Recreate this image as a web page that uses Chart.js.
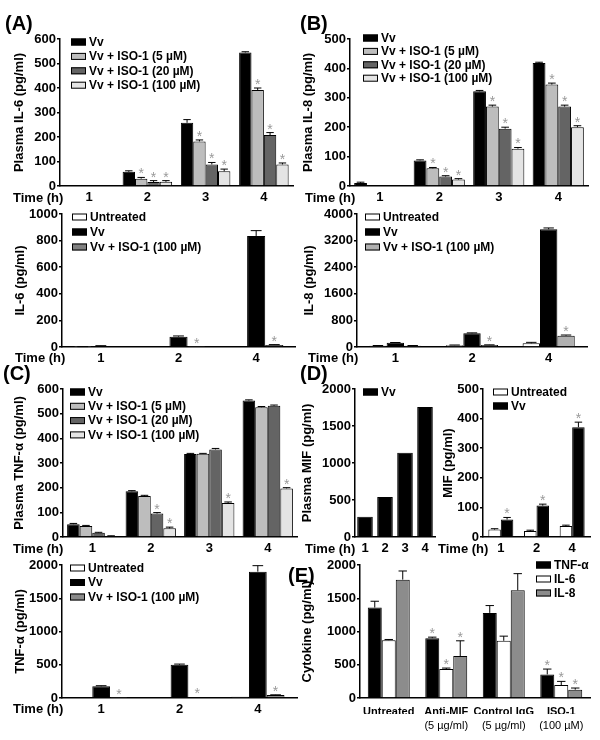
<!DOCTYPE html>
<html>
<head>
<meta charset="utf-8">
<script src="https://cdn.jsdelivr.net/npm/chart.js@4.4.1/dist/chart.umd.min.js"></script>
<style>
  body { margin: 0; background: #fff; }
  #fig { position: relative; width: 600px; height: 740px; overflow: hidden;
         font-family: "Liberation Sans", Arial, sans-serif; font-weight: bold; color: #000; }
  .panel { position: absolute; }
  .tag { position: absolute; font-size: 20px; line-height: 22px; }
  .time { position: absolute; font-size: 13px; line-height: 16px; white-space: nowrap; }
</style>
</head>
<body>
<div id="fig"></div>
<script>
// ---- data ----
const plasmaHours = ['1', '2', '3', '4'];
const cellHours = ['1', '2', '4'];

// (A) plasma IL-6
const il6PlasmaVv = [0, 58, 258, 545];
const il6PlasmaIso5 = [0, 30, 182, 392];
const il6PlasmaIso20 = [0, 16, 88, 208];
const il6PlasmaIso100 = [0, 17, 60, 88];
const il6PlasmaErr = [[0, 4, 13, 3], [0, 5, 6, 8], [0, 6, 8, 10], [0, 5, 9, 6]];
const il6PlasmaSig = [[0, 0, 0, 0], [0, 1, 1, 1], [0, 1, 1, 1], [0, 1, 1, 1]];
// (A) IL-6 in cells
const il6Untreated = [2, 0, 0];
const il6Vv = [8, 78, 835];
const il6Iso100 = [0, 2, 15];
const il6Err = [[1, 0, 0], [2, 5, 40], [0, 0, 3]];
const il6Sig = [[0, 0, 0], [0, 0, 0], [0, 1, 1]];

// (B) plasma IL-8
const il8PlasmaVv = [10, 87, 322, 418];
const il8PlasmaIso5 = [0, 60, 270, 345];
const il8PlasmaIso20 = [0, 32, 195, 270];
const il8PlasmaIso100 = [0, 22, 127, 200];
const il8PlasmaErr = [[3, 2, 3, 3], [0, 3, 5, 5], [0, 3, 5, 5], [0, 3, 4, 5]];
const il8PlasmaSig = [[0, 0, 0, 0], [0, 1, 1, 1], [0, 1, 1, 1], [0, 1, 1, 1]];
// (B) IL-8 in cells
const il8Untreated = [40, 55, 110];
const il8Vv = [125, 410, 3540];
const il8Iso100 = [40, 60, 340];
const il8Err = [[5, 5, 30], [10, 15, 40], [5, 5, 20]];
const il8Sig = [[0, 0, 0], [0, 0, 0], [0, 1, 1]];

// (C) plasma TNF-a
const tnfPlasmaVv = [52, 185, 336, 553];
const tnfPlasmaIso5 = [45, 166, 337, 526];
const tnfPlasmaIso20 = [17, 95, 355, 532];
const tnfPlasmaIso100 = [4, 35, 138, 197];
const tnfPlasmaErr = [[3, 3, 3, 3], [2, 3, 2, 3], [2, 4, 4, 3], [1, 5, 4, 3]];
const tnfPlasmaSig = [[0, 0, 0, 0], [0, 0, 0, 0], [0, 1, 0, 0], [0, 1, 1, 1]];
// (C) TNF-a in cells
const tnfUntreated = [10, 10, 20];
const tnfVv = [175, 500, 1900];
const tnfIso100 = [5, 10, 45];
const tnfErr = [[0, 0, 0], [10, 10, 90], [0, 0, 3]];
const tnfSig = [[0, 0, 0], [0, 0, 0], [1, 1, 1]];

// (D) MIF
const mifPlasmaVv = [275, 540, 1140, 1756];
const mifUntreated = [25, 20, 37];
const mifVv = [59, 106, 371];
const mifErr = [[3, 3, 3], [7, 5, 17]];
const mifSig = [[0, 0, 0], [1, 1, 1]];

// (E) cytokines after treatment
const treatments = ['Untreated', 'Anti-MIF', 'Control IgG', 'ISO-1'];
const treatmentDoses = ['', '(5 \u00b5g/ml)', '(5 \u00b5g/ml)', '(100 \u00b5M)'];
const cytoTnf = [1360, 900, 1280, 355];
const cytoIl6 = [870, 435, 860, 195];
const cytoIl8 = [1780, 630, 1620, 125];
const cytoErr = [[95, 15, 110, 80], [10, 15, 70, 55], [130, 230, 250, 25]];
const cytoSig = [[0, 1, 0, 1], [0, 1, 0, 1], [0, 1, 0, 1]];

const FONT = '"Liberation Sans", Arial, sans-serif';
Chart.defaults.font.family = FONT;
Chart.defaults.color = '#000';
Chart.defaults.animation = false;

// error whiskers (upper only) and significance stars
const errorBars = {
  id: 'errorBars',
  afterDatasetsDraw(chart) {
    const ctx = chart.ctx;
    const y = chart.scales.y;
    ctx.save();
    chart.data.datasets.forEach((ds, i) => {
      const meta = chart.getDatasetMeta(i);
      meta.data.forEach((bar, j) => {
        const v = ds.data[j];
        const e = ds.err ? ds.err[j] : 0;
        const top = y.getPixelForValue(v + e);
        if (e > 0) {
          const half = bar.width * 0.3;
          ctx.strokeStyle = '#000';
          ctx.lineWidth = 1;
          ctx.beginPath();
          ctx.moveTo(bar.x, y.getPixelForValue(v));
          ctx.lineTo(bar.x, top);
          ctx.moveTo(bar.x - half, top);
          ctx.lineTo(bar.x + half, top);
          ctx.stroke();
        }
        if (ds.sig && ds.sig[j]) {
          ctx.fillStyle = '#999';
          ctx.font = '14px ' + FONT;
          ctx.textAlign = 'center';
          ctx.textBaseline = 'alphabetic';
          ctx.fillText('*', bar.x, top + 1);
        }
      });
    });
    ctx.restore();
  }
};

// legend drawn inside the plot area
const insideLegend = {
  id: 'insideLegend',
  afterDraw(chart, args, opts) {
    const ctx = chart.ctx;
    const area = chart.chartArea;
    ctx.save();
    ctx.font = 'bold 12px ' + FONT;
    ctx.textBaseline = 'middle';
    ctx.textAlign = 'left';
    chart.data.datasets.forEach((ds, i) => {
      const x = area.left + opts.dx;
      const yy = area.top + opts.dy + i * opts.row;
      ctx.fillStyle = ds.backgroundColor;
      ctx.fillRect(x, yy - 3.5, 15, 7);
      ctx.strokeStyle = '#000';
      ctx.lineWidth = 1;
      ctx.strokeRect(x + 0.5, yy - 3, 14, 6);
      ctx.fillStyle = '#000';
      ctx.fillText(ds.label, x + 18, yy + 0.5);
    });
    ctx.restore();
  }
};

const fig = document.getElementById('fig');

function drawPanel(p) {
  const box = document.createElement('div');
  box.className = 'panel';
  box.style.left = p.x + 'px';
  box.style.top = p.y + 'px';
  const cv = document.createElement('canvas');
  cv.width = p.w;
  cv.height = p.h;
  box.appendChild(cv);
  fig.appendChild(box);

  const scales = {
    x: {
      offset: true,
      grid: { display: false, drawTicks: false },
      border: { color: '#000', width: 1.5 },
      ticks: { color: '#000', autoSkip: false, maxRotation: 0, padding: p.xPad || 4,
               font: { size: p.xFont || 13, weight: 'bold' } },
      afterFit: s => { s.height = p.xh; }
    },
    y: {
      min: 0, max: p.max,
      ticks: { stepSize: p.step, color: '#000', padding: 1, font: { size: 13, weight: 'bold' },
               callback: v => String(v) },
      grid: { drawOnChartArea: false, color: '#000', tickLength: 3, lineWidth: 1.5 },
      border: { color: '#000', width: 1.5 },
      title: { display: true, text: p.yTitle, color: '#000', padding: 0,
               font: { size: 13, weight: 'bold' } },
      afterFit: s => { s.width = p.yw; }
    }
  };
  if (p.sub) {
    scales.x2 = {
      type: 'category', labels: p.sub, position: 'bottom', offset: true, weight: 1,
      grid: { display: false, drawTicks: false }, border: { display: false },
      ticks: { color: '#000', autoSkip: false, maxRotation: 0, padding: 5,
               font: { size: 11, weight: 'normal' } },
      afterFit: s => { s.height = p.xh2; }
    };
  }

  new Chart(cv, {
    type: 'bar',
    data: {
      labels: p.labels,
      datasets: p.series.map(s => ({
        label: s.label, data: s.data, err: s.err, sig: s.sig,
        backgroundColor: s.color, borderColor: '#000', borderWidth: 1,
        categoryPercentage: p.cat, barPercentage: 1
      }))
    },
    options: {
      responsive: false,
      devicePixelRatio: 1,
      layout: { padding: { left: p.pl, top: 10, right: p.pr, bottom: 0 } },
      scales: scales,
      plugins: {
        legend: { display: false },
        tooltip: { enabled: false },
        insideLegend: p.legend
      }
    },
    plugins: [errorBars, insideLegend]
  });
}

const ISO5 = '#bdbdbd', ISO20 = '#646464', ISO100 = '#e4e4e4';
function plasmaSeries(vals, err, sig) {
  const names = ['Vv', 'Vv + ISO-1 (5 \u00b5M)', 'Vv + ISO-1 (20 \u00b5M)', 'Vv + ISO-1 (100 \u00b5M)'];
  const cols = ['#000', ISO5, ISO20, ISO100];
  return vals.map((d, i) => ({ label: names[i], data: d, err: err[i], sig: sig[i], color: cols[i] }));
}
function cellSeries(vals, err, sig, isoColor) {
  const names = ['Untreated', 'Vv', 'Vv + ISO-1 (100 \u00b5M)'];
  const cols = ['#fff', '#000', isoColor];
  return vals.map((d, i) => ({ label: names[i], data: d, err: err[i], sig: sig[i], color: cols[i] }));
}

// (A)
drawPanel({ x: 0, y: 29, w: 300, h: 177, pl: 12, yw: 48, pr: 7, xh: 20, cat: 0.85,
  labels: plasmaHours, max: 600, step: 100, yTitle: 'Plasma IL-6 (pg/ml)',
  series: plasmaSeries([il6PlasmaVv, il6PlasmaIso5, il6PlasmaIso20, il6PlasmaIso100], il6PlasmaErr, il6PlasmaSig),
  legend: { dx: 11, dy: 3, row: 14.4 } });
drawPanel({ x: 0, y: 204, w: 300, h: 163, pl: 13, yw: 49, pr: 5, xh: 20, cat: 0.7,
  labels: cellHours, max: 1000, step: 200, yTitle: 'IL-6 (pg/ml)',
  series: cellSeries([il6Untreated, il6Vv, il6Iso100], il6Err, il6Sig, '#808080'),
  legend: { dx: 10, dy: 3, row: 15 } });

// (B)
drawPanel({ x: 300, y: 29, w: 300, h: 177, pl: 1, yw: 49, pr: 12, xh: 20, cat: 0.86,
  labels: plasmaHours, max: 500, step: 100, yTitle: 'Plasma IL-8 (pg/ml)',
  series: plasmaSeries([il8PlasmaVv, il8PlasmaIso5, il8PlasmaIso20, il8PlasmaIso100], il8PlasmaErr, il8PlasmaSig),
  legend: { dx: 13, dy: -1, row: 13.4 } });
drawPanel({ x: 300, y: 204, w: 300, h: 163, pl: 2, yw: 55, pr: 13, xh: 20, cat: 0.68,
  labels: cellHours, max: 4000, step: 800, yTitle: 'IL-8 (pg/ml)',
  series: cellSeries([il8Untreated, il8Vv, il8Iso100], il8Err, il8Sig, '#b0b0b0'),
  legend: { dx: 8, dy: 3, row: 15 } });

// (C)
drawPanel({ x: 0, y: 379, w: 300, h: 178, pl: 12, yw: 51, pr: 3, xh: 20, cat: 0.86,
  labels: plasmaHours, max: 600, step: 100, yTitle: 'Plasma TNF-\u03b1 (pg/ml)',
  series: plasmaSeries([tnfPlasmaVv, tnfPlasmaIso5, tnfPlasmaIso20, tnfPlasmaIso100], tnfPlasmaErr, tnfPlasmaSig),
  legend: { dx: 7, dy: 3, row: 14.3 } });
drawPanel({ x: 0, y: 555, w: 300, h: 163, pl: 13, yw: 49, pr: 3, xh: 20, cat: 0.68,
  labels: cellHours, max: 2000, step: 500, yTitle: 'TNF-\u03b1 (pg/ml)',
  series: cellSeries([tnfUntreated, tnfVv, tnfIso100], tnfErr, tnfSig, '#8a8a8a'),
  legend: { dx: 8, dy: 3, row: 14.5 } });

// (D)
drawPanel({ x: 300, y: 379, w: 140, h: 178, pl: 0, yw: 55, pr: 5, xh: 20, cat: 0.78,
  labels: plasmaHours, max: 2000, step: 500, yTitle: 'Plasma MIF (pg/ml)',
  series: [{ label: 'Vv', data: mifPlasmaVv, color: '#000' }],
  legend: { dx: 8, dy: 3, row: 14 } });
drawPanel({ x: 440, y: 379, w: 160, h: 178, pl: 1, yw: 42, pr: 10, xh: 20, cat: 0.7,
  labels: cellHours, max: 500, step: 100, yTitle: 'MIF (pg/ml)',
  series: [
    { label: 'Untreated', data: mifUntreated, err: mifErr[0], sig: mifSig[0], color: '#fff' },
    { label: 'Vv', data: mifVv, err: mifErr[1], sig: mifSig[1], color: '#000' }
  ],
  legend: { dx: 10, dy: 3, row: 14 } });

// (E)
drawPanel({ x: 300, y: 555, w: 300, h: 185, pl: 0, yw: 60, pr: 10, xh: 16, xh2: 26, xFont: 11, xPad: 7,
  cat: 0.73, labels: treatments, sub: treatmentDoses, max: 2000, step: 500, yTitle: 'Cytokine (pg/ml)',
  series: [
    { label: 'TNF-\u03b1', data: cytoTnf, err: cytoErr[0], sig: cytoSig[0], color: '#000' },
    { label: 'IL-6', data: cytoIl6, err: cytoErr[1], sig: cytoSig[1], color: '#fff' },
    { label: 'IL-8', data: cytoIl8, err: cytoErr[2], sig: cytoSig[2], color: '#8c8c8c' }
  ],
  legend: { dx: 176, dy: 0, row: 14 } });

// panel tags and "Time (h)" row captions
[['(A)', 5, 12], ['(B)', 300, 12], ['(C)', 3, 362], ['(D)', 300, 362], ['(E)', 288, 564]].forEach(t => {
  const d = document.createElement('div');
  d.className = 'tag';
  d.textContent = t[0];
  d.style.left = t[1] + 'px';
  d.style.top = t[2] + 'px';
  fig.appendChild(d);
});
[[13, 198], [15, 358], [305, 198], [308, 358], [13, 549], [13, 709], [305, 549], [438, 549]].forEach(t => {
  const d = document.createElement('div');
  d.className = 'time';
  d.textContent = 'Time (h)';
  d.style.left = t[0] + 'px';
  d.style.top = (t[1] - 8) + 'px';
  fig.appendChild(d);
});
</script>
</body>
</html>
